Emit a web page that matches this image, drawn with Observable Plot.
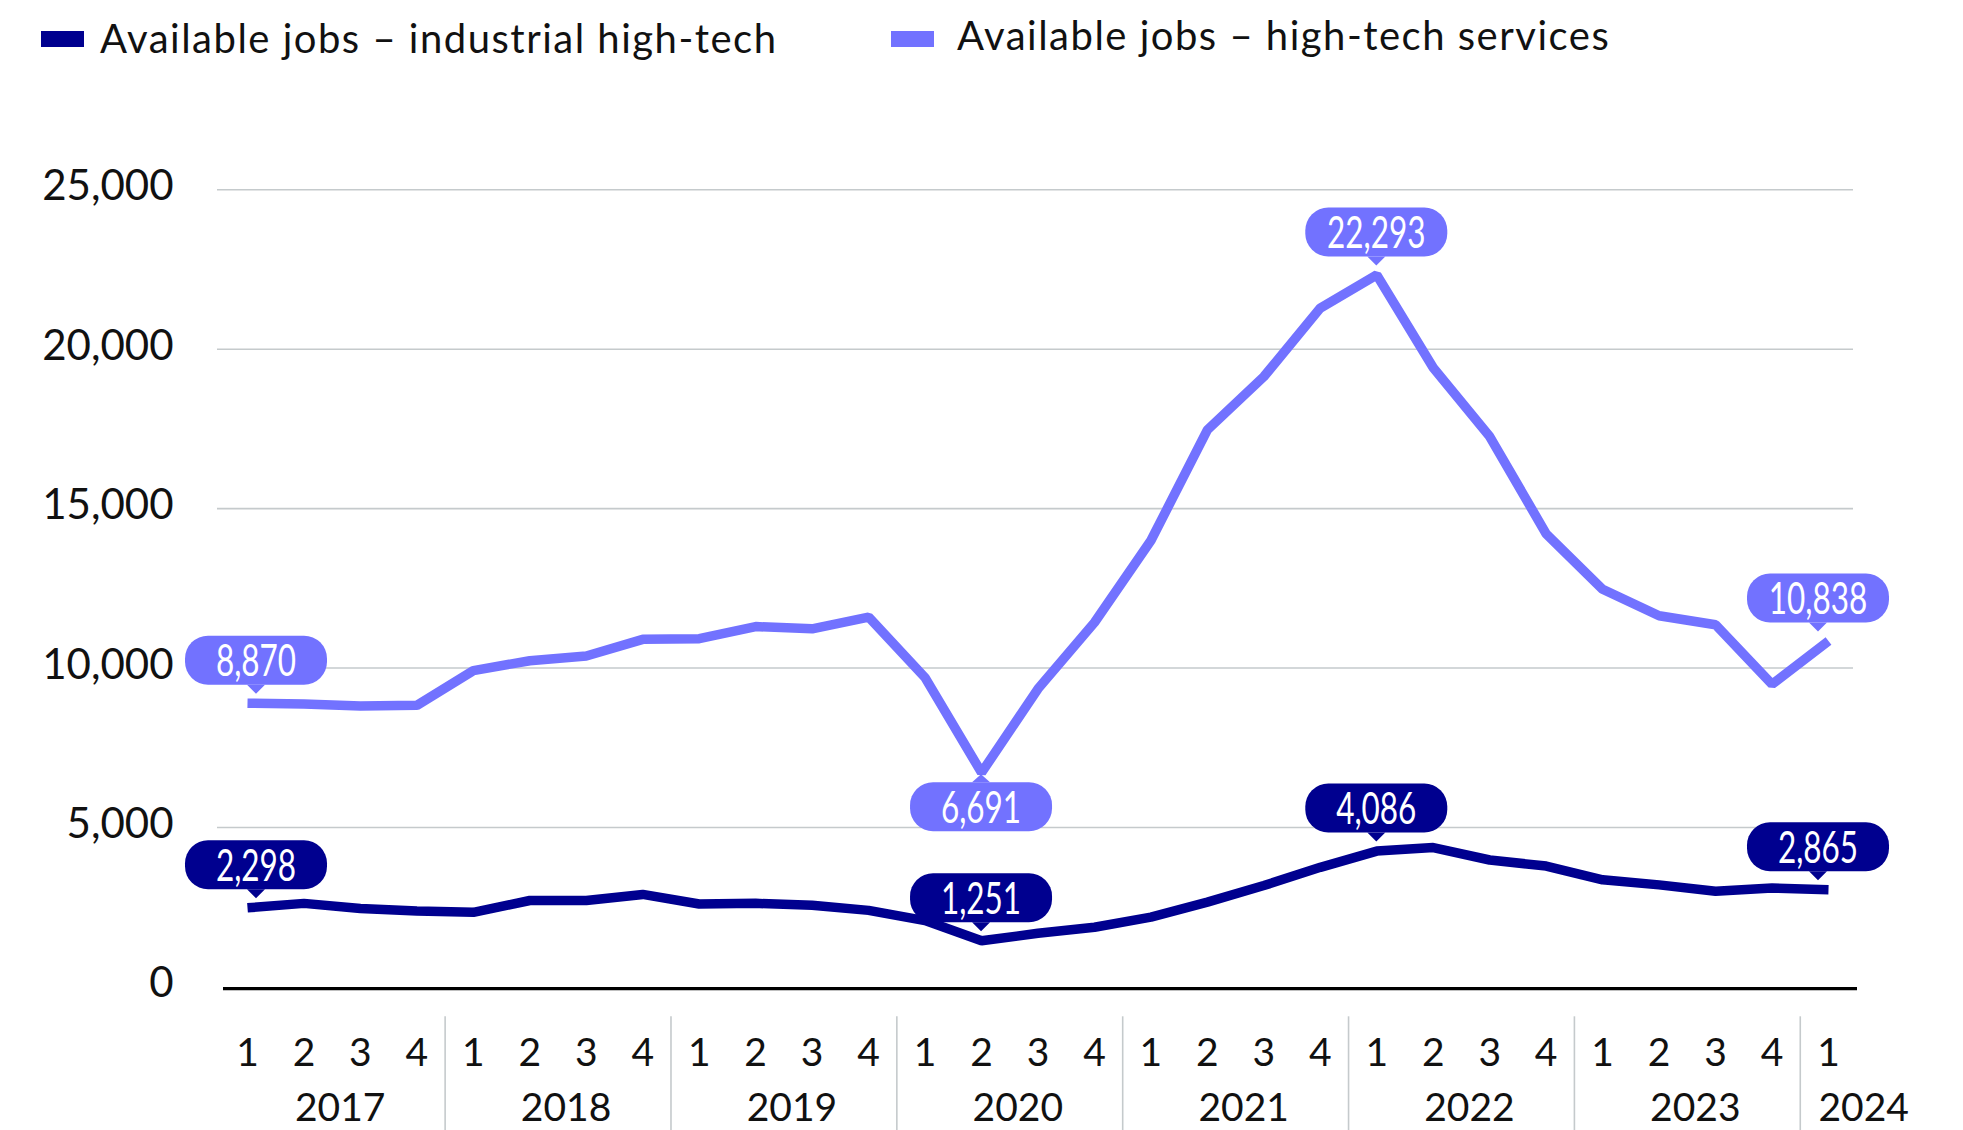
<!DOCTYPE html>
<html><head><meta charset="utf-8">
<script src="https://cdn.jsdelivr.net/npm/d3@7"></script>
<script src="https://cdn.jsdelivr.net/npm/@observablehq/plot@0.6"></script>
<style>
body{margin:0;background:#fff;}
#wrap{position:relative;width:1963px;height:1130px;overflow:hidden;background:#fff}
#legend{position:absolute;left:0;top:0}
#chart{position:absolute;left:0;top:80px}
</style>
</head><body>
<div id="wrap"><div id="legend"></div><div id="chart"></div></div>
<script>
// ---- data ----
const years = [2017, 2018, 2019, 2020, 2021, 2022, 2023, 2024];
const quartersPerYear = [4, 4, 4, 4, 4, 4, 4, 1];
const seriesNames = ["Available jobs – industrial high-tech", "Available jobs – high-tech services"];
const seriesColors = ["#00008f", "#7272ff"];
const industrial = [2480, 2620, 2460, 2380, 2340, 2710, 2710, 2900, 2600, 2620, 2560, 2400, 2080, 1450,
  1680, 1870, 2190, 2660, 3180, 3750, 4260, 4370, 3980, 3790, 3360, 3200, 3000, 3100, 3050];
const services = [8900, 8870, 8810, 8830, 9920, 10230, 10380, 10900, 10920, 11300, 11230, 11600, 9700, 6720,
  9350, 11430, 14000, 17470, 19140, 21290, 22330, 19420, 17260, 14210, 12470, 11640, 11360, 9490, 10850];
const industrialLabelIdx = [0, 13, 20, 28];
const industrialLabelText = ["2,298", "1,251", "4,086", "2,865"];
const servicesLabelIdx = [0, 13, 20, 28];
const servicesLabelText = ["8,870", "6,691", "22,293", "10,838"];
const servicesLabelPlace = ["above", "below", "above", "above"];
const yTicks = [0, 5000, 10000, 15000, 20000, 25000];

// ---- build tables ----
const periods = [];
years.forEach((yr, k) => { for (let q = 1; q <= quartersPerYear[k]; q++) periods.push({year: yr, q}); });
const rows = (vals) => vals.map((v, i) => ({i, v, year: periods[i].year, q: periods[i].q}));
const indRows = rows(industrial), srvRows = rows(services);
const last = periods.length - 1;
const yearInfo = years.map(yr => {
  const idx = periods.map((p, i) => p.year === yr ? i : -1).filter(i => i >= 0);
  return {year: yr, first: idx[0], mid: (idx[0] + idx[idx.length - 1]) / 2, n: idx.length};
});
const separators = yearInfo.slice(1).map(d => d.first - 0.5);
const indLabels = industrialLabelIdx.map((i, k) => ({i, v: industrial[i], text: industrialLabelText[k], place: "above"}));
const srvLabels = servicesLabelIdx.map((i, k) => ({i, v: services[i], text: servicesLabelText[k], place: servicesLabelPlace[k]}));

// ---- legend ----
const leg = d3.select("#legend").append("svg").attr("width", 1963).attr("height", 80);
const legX = [[41, 100, 53], [891, 957, 50]];
seriesNames.forEach((name, k) => {
  const [sx, tx, by] = legX[k];
  leg.append("rect").attr("x", sx).attr("y", 31).attr("width", 43).attr("height", 16).attr("fill", seriesColors[k]);
  leg.append("text").attr("x", tx).attr("y", by).attr("font-family", "Lato, 'Open Sans', sans-serif")
    .attr("font-size", 40).attr("letter-spacing", 1.5).attr("fill", "#111").text(name);
});

// ---- bubble labels ----
function bubbles(data, color) {
  return Plot.dot(data, {x: "i", y: "v", render(index, scales, values) {
    const g = d3.create("svg:g");
    const W = 142, H = 49;
    for (const k of index) {
      const d = data[k];
      const px = values.x[k], py = values.y[k];
      const shift = d.i === 0 ? 9 : d.i === last ? -10 : 0;
      const cx = px + shift;
      let top, tipY, baseY;
      if (d.place === "above") { tipY = py - 9; baseY = py - 18; top = baseY - H; }
      else { tipY = py + 2; baseY = py + 10; top = baseY; }
      g.append("rect").attr("x", cx - W / 2).attr("y", top).attr("width", W).attr("height", H)
        .attr("rx", 23).attr("fill", color);
      g.append("path").attr("d", `M${cx - 9},${baseY}L${cx + 9},${baseY}L${cx},${tipY}Z`).attr("fill", color);
      g.append("text").attr("transform", `translate(${cx},${top + H / 2 + 16}) scale(0.7,1)`)
        .attr("text-anchor", "middle")
        .attr("font-family", "Lato, sans-serif")
        .attr("font-size", 45).attr("fill", "#fff").text(d.text);
    }
    return g.node();
  }});
}

const chart = Plot.plot({
  width: 1963, height: 1050,
  marginLeft: 247, marginRight: 135, marginTop: 109.3, marginBottom: 143.6,
  style: {fontFamily: "Lato, 'Open Sans', sans-serif", color: "#111", background: "#fff", overflow: "visible"},
  x: {domain: [0, last], axis: null},
  y: {domain: [0, 25000], axis: null},
  marks: [
    Plot.ruleY(yTicks.filter(t => t > 0), {stroke: "#c5cacc", strokeWidth: 1.6, insetLeft: -30, insetRight: -25}),
    Plot.ruleX(separators, {stroke: "#c5cacc", strokeWidth: 1.6, insetTop: 827, insetBottom: -144}),
    Plot.ruleY([0], {stroke: "#000", strokeWidth: 3.2, dy: 1.8, insetLeft: -24, insetRight: -29}),
    Plot.axisY({ticks: yTicks, tickFormat: d3.format(","), tickSize: 0, tickPadding: 74, fontSize: 42, dy: -3, label: null}),
    Plot.text(periods.map((p, i) => ({i, q: p.q})), {x: "i", text: d => String(d.q), frameAnchor: "bottom",
      lineAnchor: "bottom", dy: 78.6, fontSize: 39, fill: "#111"}),
    Plot.text(yearInfo.filter(d => d.n > 1), {x: "mid", text: d => String(d.year), frameAnchor: "bottom",
      lineAnchor: "bottom", dy: 133.6, dx: 8, fontSize: 39, fill: "#111", textAnchor: "middle"}),
    Plot.text(yearInfo.filter(d => d.n === 1), {x: "first", text: d => String(d.year), frameAnchor: "bottom",
      lineAnchor: "bottom", dy: 133.6, dx: -10, fontSize: 39, fill: "#111", textAnchor: "start"}),
    Plot.line(indRows, {x: "i", y: "v", stroke: seriesColors[0], strokeWidth: 9.5, strokeLinejoin: "miter", strokeLinecap: "butt"}),
    Plot.line(srvRows, {x: "i", y: "v", stroke: seriesColors[1], strokeWidth: 9.5, strokeLinejoin: "miter", strokeLinecap: "butt"}),
    bubbles(srvLabels, seriesColors[1]),
    bubbles(indLabels, seriesColors[0])
  ]
});
document.getElementById("chart").append(chart);
</script>
</body></html>
